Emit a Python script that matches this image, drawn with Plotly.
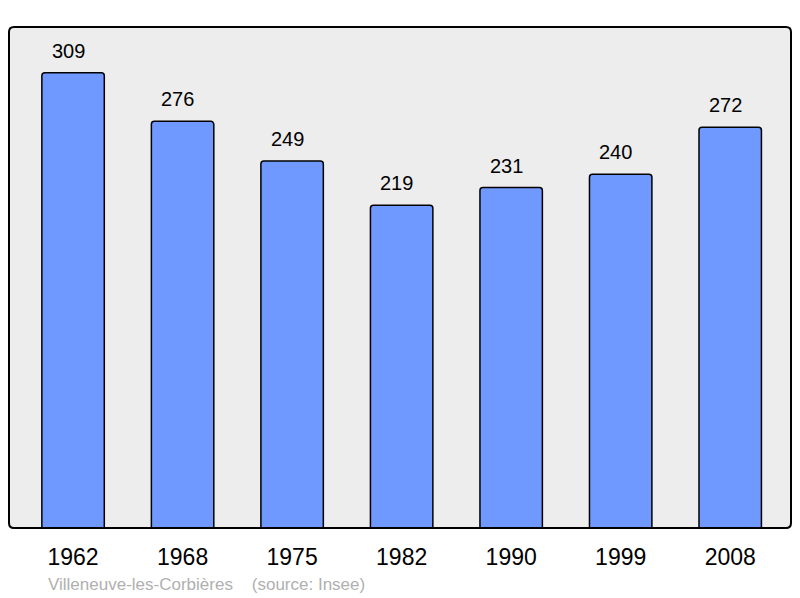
import plotly.graph_objects as go

years = ["1962", "1968", "1975", "1982", "1990", "1999", "2008"]
population = [309, 276, 249, 219, 231, 240, 272]
source_text = "Villeneuve-les-Corbières&nbsp;&nbsp;&nbsp;&nbsp;(source: Insee)"

fig = go.Figure()
fig.add_trace(go.Bar(
    x=years, y=population,
    width=0.57,
    marker=dict(color="#7099ff", line=dict(color="black", width=1.5), cornerradius=3),
    hoverinfo="skip",
))

for i, v in enumerate(population):
    fig.add_annotation(x=i, y=v, text=str(v), showarrow=False,
                       yanchor="bottom", yshift=9, xshift=-5,
                       font=dict(family="Liberation Sans, Arial", size=20, color="black"))

fig.add_annotation(xref="paper", yref="paper", x=0.047, y=0, yshift=-56,
                   xanchor="left", yanchor="middle", text=source_text, showarrow=False,
                   font=dict(family="Liberation Sans, Arial", size=17, color="#b0b0b0"))

# rounded frame around plot area
W, H = 782.0, 501.0
r = 5.0
rx, ry = r / W, r / H
path = (f"M {rx},0 L {1-rx},0 Q 1,0 1,{ry} L 1,{1-ry} Q 1,1 {1-rx},1 "
        f"L {rx},1 Q 0,1 0,{1-ry} L 0,{ry} Q 0,0 {rx},0 Z")
fig.add_shape(type="path", path=path, xref="paper", yref="paper",
              line=dict(color="black", width=2), layer="above")

fig.update_layout(
    width=800, height=598,
    margin=dict(l=9, r=9, t=27, b=70),
    paper_bgcolor="white", plot_bgcolor="#ededed",
    showlegend=False,
    xaxis=dict(type="category", range=[-0.585, 6.555], showgrid=False, zeroline=False,
               ticks="outside", ticklen=8, tickcolor="rgba(0,0,0,0)",
               tickfont=dict(family="Liberation Sans, Arial", size=23, color="black")),
    yaxis=dict(range=[0, 340], showgrid=False, zeroline=False, showticklabels=False),
)

fig.write_html("out.html", config={"displayModeBar": False},
               post_script="document.body.style.margin='0';document.body.style.overflow='hidden';")
